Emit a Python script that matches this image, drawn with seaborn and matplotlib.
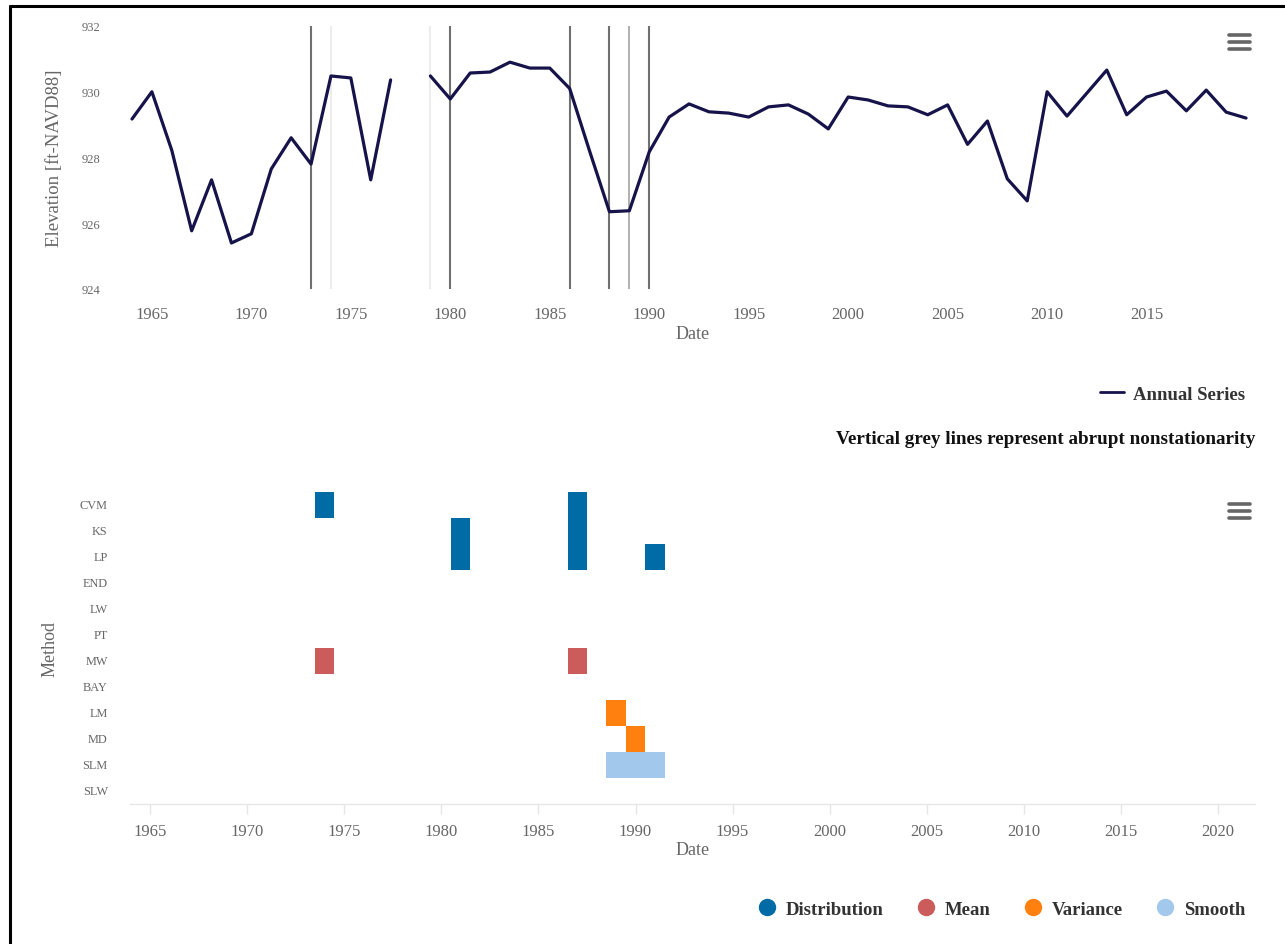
import numpy as np
import pandas as pd
import matplotlib
matplotlib.use("Agg")
import matplotlib.pyplot as plt
from matplotlib.colors import ListedColormap
from matplotlib.lines import Line2D
import seaborn as sns

# ---- annual lake elevation series (ft NAVD88); 1978 missing ----
years = list(range(1964, 2021))
elevation = [
    929.17, 930.00, 928.22, 925.77, 927.32, 925.40, 925.68, 927.65, 928.60, 927.80,
    930.48, 930.42, 927.32, 930.36, np.nan, 930.48, 929.78, 930.57, 930.60, 930.90,
    930.72, 930.72, 930.10, 928.20, 926.35, 926.38, 928.17, 929.23, 929.63, 929.39,
    929.35, 929.23, 929.54, 929.60, 929.32, 928.87, 929.84, 929.75, 929.57, 929.54,
    929.30, 929.60, 928.40, 929.11, 927.35, 926.68, 930.00, 929.26, 929.96, 930.66,
    929.30, 929.84, 930.02, 929.42, 930.05, 929.38, 929.20,
]

# abrupt change points marked on the series (strong, light, faint)
break_years = [1973, 1980, 1986, 1988, 1990]
light_break_years = [1989]
faint_break_years = [1974, 1979]

# ---- detected change points by method ----
methods = ["CVM", "KS", "LP", "END", "LW", "PT", "MW", "BAY", "LM", "MD", "SLM", "SLW"]
method_group = ["Distribution", "Distribution", "Distribution", "Distribution",
                "Distribution", "Distribution", "Mean", "Mean",
                "Variance", "Variance", "Smooth", "Smooth"]
change_years = [
    [1974, 1987],          # CVM
    [1981, 1987],          # KS
    [1981, 1987, 1991],    # LP
    [],                    # END
    [],                    # LW
    [],                    # PT
    [1974, 1987],          # MW
    [],                    # BAY
    [1989],                # LM
    [1990],                # MD
    [1989, 1990, 1991],    # SLM
    [],                    # SLW
]
groups = ["Distribution", "Mean", "Variance", "Smooth"]
group_colors = ["#006BA4", "#CC5B5B", "#FF800E", "#A2C8EC"]

grid_years = list(range(1964, 2022))
tick_years = list(range(1965, 2025, 5))

NAVY = "#16134A"
GREY_TXT = "#666666"
DARK_TXT = "#333333"

sns.set_theme(style="white")
plt.rcParams["font.family"] = ["Liberation Serif", "DejaVu Serif"]

W, H = 1285, 945
fig = plt.figure(figsize=(W / 100, H / 100), dpi=100)
fig.patch.set_facecolor("white")


def fx(px):
    return px / W


def fy(py):
    return 1 - py / H


# ================= top panel: annual series =================
ax1 = fig.add_axes([fx(130), fy(290), fx(1255) - fx(130), fy(27) - fy(290)])
series = pd.DataFrame({"Date": years, "Elevation": elevation})
series["segment"] = np.where(series["Date"] < 1978, 0, 1)
series = series.dropna()

for yr in faint_break_years:
    ax1.axvline(yr, color="#ececec", lw=1.4, zorder=1)
for yr in light_break_years:
    ax1.axvline(yr, color="#b0b0b0", lw=1.4, zorder=1)
for yr in break_years:
    ax1.axvline(yr, color="#707070", lw=1.5, zorder=1)

sns.lineplot(data=series, x="Date", y="Elevation", units="segment", estimator=None,
             color=NAVY, lw=2.3, ax=ax1, zorder=3, legend=False)

ax1.set_xlim(1963.9, 2020.45)
ax1.set_ylim(924, 932)
ax1.set_xticks(list(range(1965, 2020, 5)))
ax1.set_yticks([924, 926, 928, 930, 932])
ax1.tick_params(axis="x", length=0, pad=12.5, labelsize=12, labelcolor=GREY_TXT)
ax1.tick_params(axis="y", length=0, pad=21, labelsize=9, labelcolor=GREY_TXT)
for s in ax1.spines.values():
    s.set_visible(False)
ax1.grid(False)
ax1.set_xlabel("Date", fontsize=13, color=GREY_TXT, labelpad=2)
ax1.set_ylabel("Elevation [ft-NAVD88]", fontsize=13.5, color=GREY_TXT, labelpad=14)

fig.legend(handles=[Line2D([], [], color=NAVY, lw=2)], labels=["Annual Series"],
           loc="center right", bbox_to_anchor=(fx(1245), fy(395)), frameon=False,
           prop={"weight": "bold", "size": 13.5}, labelcolor=DARK_TXT,
           handlelength=1.25, handletextpad=0.5, borderpad=0, borderaxespad=0)
fig.text(fx(1255), fy(439), "Vertical grey lines represent abrupt nonstationarity",
         ha="right", va="center", fontsize=13.8, fontweight="bold", color="#111111")

# ================= bottom panel: change points by method =================
ax2 = fig.add_axes([fx(130), fy(805), fx(1255) - fx(130), fy(493) - fy(805)])
cells = pd.DataFrame(np.nan, index=methods, columns=grid_years)
for m, grp, yrs in zip(methods, method_group, change_years):
    for yr in yrs:
        cells.loc[m, yr] = groups.index(grp) + 1

sns.heatmap(cells, cmap=ListedColormap(group_colors), vmin=0.5, vmax=4.5,
            cbar=False, linewidths=0, ax=ax2)

x0 = grid_years[0] - 0.5
ax2.set_xlim(1963.97 - x0, 2021.9 - x0)
ax2.set_ylim(len(methods), 0)
ax2.set_xticks([yr - x0 for yr in tick_years])
ax2.set_xticklabels([str(yr) for yr in tick_years], rotation=0)
ax2.set_yticks(np.arange(len(methods)) + 0.5)
ax2.set_yticklabels(methods, rotation=0)
ax2.tick_params(axis="x", length=7, width=1, color="#e6e6e6", pad=7,
                labelsize=12, labelcolor=GREY_TXT, bottom=True)
ax2.tick_params(axis="y", length=0, pad=16, labelsize=8.8, labelcolor=GREY_TXT)
for name, s in ax2.spines.items():
    s.set_visible(name == "bottom")
ax2.spines["bottom"].set_color("#e6e6e6")
ax2.spines["bottom"].set_linewidth(1)
ax2.set_xlabel("Date", fontsize=13, color=GREY_TXT, labelpad=1)
ax2.set_ylabel("Method", fontsize=13, color=GREY_TXT, labelpad=15)

legend_handles = [Line2D([], [], ls="none", marker="o", markersize=11.5,
                         markerfacecolor=c, markeredgecolor=c) for c in group_colors]
fig.legend(handles=legend_handles, labels=groups, ncol=4,
           loc="center right", bbox_to_anchor=(fx(1245), fy(910)), frameon=False,
           prop={"weight": "bold", "size": 13.5}, labelcolor=DARK_TXT,
           handlelength=1.0, handletextpad=0.5, columnspacing=1.75,
           borderpad=0, borderaxespad=0)

# ================= menu icons and frame =================
for top in (36, 505):
    for k in range(3):
        yy = fy(top + 7 * k)
        fig.add_artist(Line2D([fx(1229), fx(1250)], [yy, yy], color="#666666",
                              lw=2.6, solid_capstyle="round"))

fig.add_artist(Line2D([fx(10), fx(1285)], [fy(7), fy(7)], color="black", lw=2.2))
fig.add_artist(Line2D([fx(10), fx(10)], [fy(7), fy(945)], color="black", lw=2.2))

fig.savefig("out.png", dpi=100, facecolor="white")
